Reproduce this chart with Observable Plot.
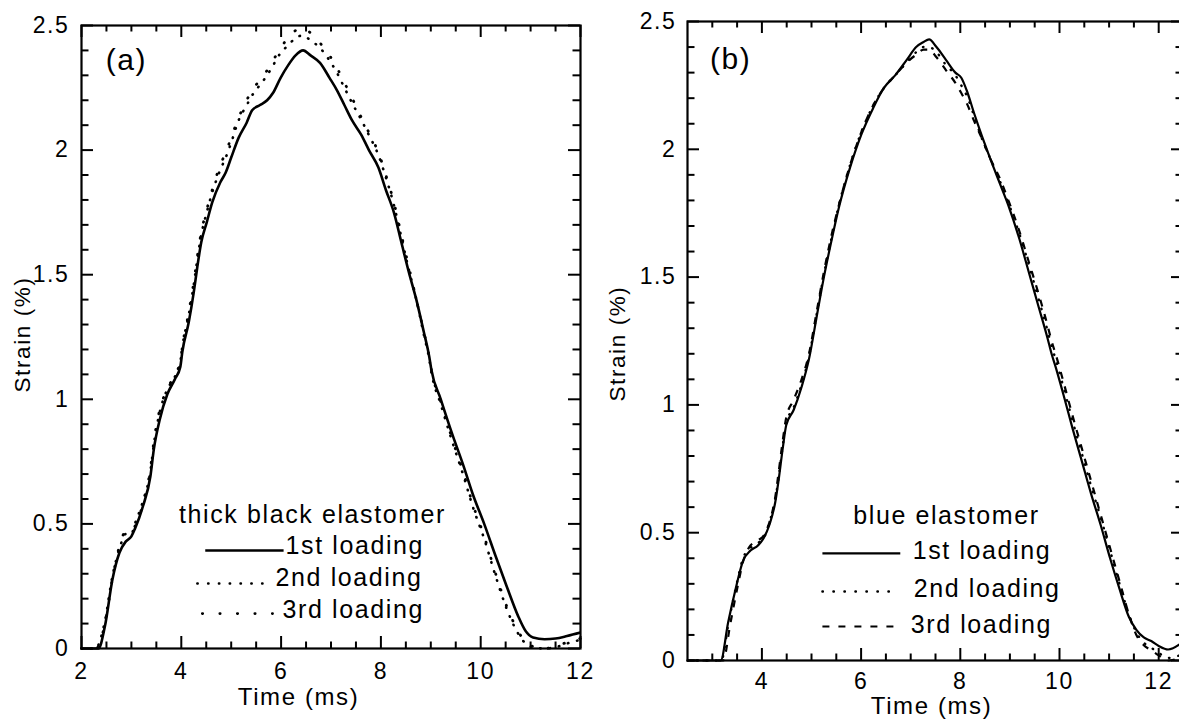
<!DOCTYPE html>
<html>
<head>
<meta charset="utf-8">
<script src="https://cdn.jsdelivr.net/npm/d3@7"></script>
<script src="https://cdn.jsdelivr.net/npm/@observablehq/plot@0.6"></script>
<style>
  html, body { margin: 0; padding: 0; background: #fff; overflow: hidden; }
  #wrap { position: relative; width: 1179px; height: 722px; overflow: hidden; background: #fff; }
  #pa, #pb { position: absolute; top: 0; }
  #pa { left: 0; width: 590px; }
  #pb { left: 600px; width: 600px; }
  #wrap svg { max-width: none !important; }
</style>
</head>
<body>
<div id="wrap"><div id="pa"></div><div id="pb"></div></div>
<script>
// ---------------- DATA ----------------
const seriesNames = ["1st loading", "2nd loading", "3rd loading"];

// Panel (a): thick black elastomer
const timeA1 = [2.0, 2.2, 2.34, 2.47, 2.62, 2.76, 2.89, 3.0, 3.07, 3.23, 3.38, 3.45, 3.57, 3.72, 3.87, 3.98, 4.02, 4.15, 4.25, 4.32, 4.40, 4.51, 4.62, 4.78, 4.89, 5.0, 5.15, 5.31, 5.42, 5.57, 5.72, 5.84, 5.99, 6.14, 6.29, 6.44, 6.59, 6.78, 6.97, 7.12, 7.27, 7.42, 7.61, 7.76, 7.95, 8.10, 8.26, 8.41, 8.56, 8.71, 8.86, 8.97, 9.01, 9.20, 9.43, 9.66, 9.84, 10.07, 10.30, 10.52, 10.75, 10.90, 11.05, 11.28, 11.50, 11.73, 12.0];
const strainA1 = [0, 0, 0, 0.09, 0.277, 0.384, 0.43, 0.45, 0.48, 0.57, 0.69, 0.80, 0.92, 1.02, 1.08, 1.13, 1.19, 1.31, 1.43, 1.53, 1.63, 1.71, 1.79, 1.87, 1.91, 1.97, 2.05, 2.11, 2.16, 2.18, 2.20, 2.23, 2.29, 2.34, 2.38, 2.40, 2.38, 2.35, 2.29, 2.24, 2.18, 2.12, 2.06, 2.0, 1.93, 1.84, 1.75, 1.63, 1.51, 1.40, 1.27, 1.17, 1.12, 1.0, 0.86, 0.73, 0.62, 0.50, 0.37, 0.25, 0.13, 0.07, 0.044, 0.037, 0.04, 0.05, 0.064];

const timeA2 = [2.0, 2.3, 2.35, 2.47, 2.62, 2.76, 2.89, 3.0, 3.07, 3.23, 3.38, 3.45, 3.57, 3.72, 3.87, 3.98, 4.02, 4.15, 4.25, 4.32, 4.40, 4.51, 4.62, 4.78, 4.89, 5.0, 5.15, 5.31, 5.42, 5.57, 5.72, 5.84, 5.99, 6.14, 6.29, 6.44, 6.59, 6.78, 6.97, 7.12, 7.27, 7.42, 7.61, 7.76, 7.95, 8.10, 8.26, 8.41, 8.56, 8.71, 8.86, 8.97, 9.01, 9.20, 9.43, 9.66, 9.84, 10.07, 10.30, 10.52, 10.75, 10.90, 11.05, 11.28, 11.50, 11.73, 12.0];
const strainA2 = [0, 0, 0.02, 0.11, 0.29, 0.40, 0.46, 0.46, 0.50, 0.59, 0.71, 0.82, 0.95, 1.04, 1.09, 1.15, 1.21, 1.34, 1.46, 1.56, 1.66, 1.75, 1.83, 1.92, 1.97, 2.03, 2.12, 2.18, 2.22, 2.26, 2.30, 2.34, 2.39, 2.42, 2.45, 2.46, 2.44, 2.41, 2.36, 2.31, 2.25, 2.19, 2.12, 2.06, 1.98, 1.89, 1.78, 1.65, 1.52, 1.40, 1.26, 1.16, 1.11, 0.98, 0.83, 0.69, 0.57, 0.44, 0.29, 0.16, 0.06, 0.02, 0.005, 0.0, 0.005, 0.02, 0.035];

const timeA3 = [2.0, 2.3, 2.36, 2.47, 2.62, 2.76, 2.89, 3.0, 3.07, 3.23, 3.38, 3.45, 3.57, 3.72, 3.87, 3.98, 4.02, 4.15, 4.25, 4.32, 4.40, 4.51, 4.62, 4.78, 4.89, 5.0, 5.15, 5.31, 5.42, 5.57, 5.72, 5.84, 5.99, 6.14, 6.29, 6.44, 6.59, 6.78, 6.97, 7.12, 7.27, 7.42, 7.61, 7.76, 7.95, 8.10, 8.26, 8.41, 8.56, 8.71, 8.86, 8.97, 9.01, 9.20, 9.43, 9.66, 9.84, 10.07, 10.30, 10.52, 10.75, 10.90, 11.05, 11.28, 11.50, 11.73, 12.0];
const strainA3 = [0, 0, 0.02, 0.10, 0.28, 0.41, 0.47, 0.47, 0.49, 0.58, 0.72, 0.83, 0.96, 1.04, 1.10, 1.15, 1.21, 1.35, 1.47, 1.57, 1.67, 1.76, 1.84, 1.94, 1.99, 2.05, 2.13, 2.20, 2.24, 2.28, 2.32, 2.36, 2.41, 2.45, 2.48, 2.49, 2.47, 2.43, 2.38, 2.33, 2.27, 2.21, 2.13, 2.07, 1.99, 1.90, 1.79, 1.66, 1.53, 1.40, 1.27, 1.17, 1.12, 0.99, 0.84, 0.70, 0.58, 0.45, 0.30, 0.17, 0.07, 0.025, 0.008, 0.0, 0.008, 0.025, 0.04];

// Panel (b): blue elastomer
const timeB1 = [2.5, 3.0, 3.17, 3.32, 3.47, 3.62, 3.77, 3.92, 4.04, 4.15, 4.27, 4.34, 4.42, 4.49, 4.64, 4.80, 4.95, 5.10, 5.25, 5.40, 5.55, 5.78, 6.01, 6.24, 6.46, 6.69, 6.92, 7.11, 7.26, 7.37, 7.52, 7.71, 7.90, 8.02, 8.13, 8.28, 8.44, 8.59, 8.81, 8.97, 9.19, 9.38, 9.57, 9.76, 9.84, 9.92, 10.08, 10.26, 10.45, 10.64, 10.83, 11.02, 11.21, 11.40, 11.55, 11.70, 11.85, 12.0, 12.19, 12.42];
const strainB1 = [0, 0, 0, 0.15, 0.28, 0.39, 0.43, 0.45, 0.48, 0.53, 0.62, 0.71, 0.83, 0.92, 0.98, 1.07, 1.18, 1.34, 1.50, 1.64, 1.77, 1.93, 2.06, 2.16, 2.24, 2.29, 2.35, 2.40, 2.42, 2.43, 2.40, 2.35, 2.30, 2.28, 2.23, 2.14, 2.05, 1.97, 1.86, 1.78, 1.65, 1.52, 1.39, 1.26, 1.20, 1.15, 1.04, 0.91, 0.78, 0.65, 0.53, 0.40, 0.28, 0.17, 0.12, 0.09, 0.076, 0.057, 0.043, 0.063];

const timeB2 = [2.5, 3.0, 3.18, 3.33, 3.48, 3.62, 3.77, 3.92, 4.04, 4.15, 4.27, 4.34, 4.42, 4.49, 4.64, 4.80, 4.95, 5.10, 5.25, 5.40, 5.55, 5.78, 6.01, 6.24, 6.46, 6.69, 6.92, 7.11, 7.26, 7.37, 7.52, 7.71, 7.90, 8.02, 8.13, 8.28, 8.44, 8.59, 8.81, 8.97, 9.19, 9.38, 9.57, 9.76, 9.84, 9.92, 10.08, 10.26, 10.45, 10.64, 10.83, 11.02, 11.21, 11.40, 11.55, 11.70, 11.85, 12.0, 12.19, 12.42];
const strainB2 = [0, 0, 0, 0.15, 0.29, 0.40, 0.44, 0.46, 0.48, 0.54, 0.63, 0.72, 0.84, 0.93, 0.99, 1.08, 1.19, 1.35, 1.51, 1.65, 1.78, 1.94, 2.07, 2.17, 2.24, 2.29, 2.34, 2.38, 2.40, 2.40, 2.38, 2.33, 2.29, 2.25, 2.21, 2.13, 2.04, 1.97, 1.87, 1.79, 1.67, 1.55, 1.42, 1.29, 1.23, 1.18, 1.07, 0.94, 0.81, 0.68, 0.56, 0.43, 0.30, 0.18, 0.11, 0.07, 0.05, 0.03, 0.01, 0.02];

const timeB3 = [2.5, 3.0, 3.22, 3.36, 3.50, 3.64, 3.77, 3.92, 4.04, 4.15, 4.27, 4.34, 4.42, 4.49, 4.64, 4.80, 4.95, 5.10, 5.25, 5.40, 5.55, 5.78, 6.01, 6.24, 6.46, 6.69, 6.92, 7.11, 7.26, 7.37, 7.52, 7.71, 7.90, 8.02, 8.13, 8.28, 8.44, 8.59, 8.81, 8.97, 9.19, 9.38, 9.57, 9.76, 9.84, 9.92, 10.08, 10.26, 10.45, 10.64, 10.83, 11.02, 11.21, 11.40, 11.55, 11.70, 11.85, 12.0, 12.19, 12.42];
const strainB3 = [0, 0, 0, 0.14, 0.28, 0.40, 0.45, 0.47, 0.49, 0.54, 0.64, 0.74, 0.86, 0.95, 1.02, 1.10, 1.20, 1.36, 1.52, 1.66, 1.78, 1.94, 2.07, 2.17, 2.24, 2.29, 2.34, 2.37, 2.39, 2.39, 2.36, 2.31, 2.26, 2.22, 2.18, 2.11, 2.04, 1.97, 1.88, 1.80, 1.68, 1.56, 1.44, 1.31, 1.25, 1.20, 1.09, 0.96, 0.83, 0.70, 0.57, 0.44, 0.31, 0.18, 0.10, 0.06, 0.04, 0.02, 0.0, 0.01];

// Tick values
const majorTicksY = [0, 0.5, 1, 1.5, 2, 2.5];
const minorTicksY = [0.1, 0.2, 0.3, 0.4, 0.6, 0.7, 0.8, 0.9, 1.1, 1.2, 1.3, 1.4, 1.6, 1.7, 1.8, 1.9, 2.1, 2.2, 2.3, 2.4];
const majorTicksXA = [2, 4, 6, 8, 10, 12];
const minorTicksXA = [2.5, 3, 3.5, 4.5, 5, 5.5, 6.5, 7, 7.5, 8.5, 9, 9.5, 10.5, 11, 11.5];
const majorTicksXB = [4, 6, 8, 10, 12];
const minorTicksXB = [3, 3.5, 4.5, 5, 5.5, 6.5, 7, 7.5, 8.5, 9, 9.5, 10.5, 11, 11.5, 12.5];

// Texts
const xLabel = "Time (ms)";
const yLabel = "Strain (%)";

// ---------------- LAYOUT / STYLE ----------------
const lineStylesA = [
  {w: 2.6, dash: null, cap: "butt"},
  {w: 2.6, dash: "0.5,9", cap: "round"},
  {w: 2.8, dash: "0.5,16", cap: "round"}
];
const lineStylesB = [
  {w: 2.2, dash: null, cap: "butt"},
  {w: 2.4, dash: "0.5,9", cap: "round"},
  {w: 2.2, dash: "7,8", cap: "butt"}
];
const MAJOR_LEN = 12, MINOR_LEN = 6.5;

function buildPanel(cfg) {
  const rows = [];
  cfg.series.forEach((s, i) => s.t.forEach((t, j) => rows.push({t, v: s.v[j], name: seriesNames[i]})));
  const legendRows = seriesNames.map((name, i) => ({
    name, x1: cfg.legend.lx[i][0], x2: cfg.legend.lx[i][1], ly: cfg.legend.ly[i], tx: cfg.legend.tx[i], ty: cfg.legend.ty[i]
  }));
  const fw = cfg.width - cfg.m[0] - cfg.m[1];   // frame width (px)
  const fh = cfg.height - cfg.m[2] - cfg.m[3];  // frame height (px)
  const tk = {stroke: "black", strokeWidth: 2};
  const marks = [];
  // curves (3rd, 2nd, then 1st on top)
  [2, 1, 0].forEach(i => {
    const st = cfg.styles[i];
    marks.push(Plot.line(rows.filter(r => r.name === seriesNames[i]), {
      x: "t", y: "v", curve: "monotone-x", stroke: "black",
      strokeWidth: st.w, strokeDasharray: st.dash, strokeLinecap: st.cap
    }));
  });
  // inward ticks on all four sides
  marks.push(Plot.tickX(cfg.majorX, {x: d => d, insetTop: fh - MAJOR_LEN, ...tk}));
  marks.push(Plot.tickX(cfg.minorX, {x: d => d, insetTop: fh - MINOR_LEN, ...tk}));
  marks.push(Plot.tickX(cfg.majorX, {x: d => d, insetBottom: fh - MAJOR_LEN, ...tk}));
  marks.push(Plot.tickX(cfg.minorX, {x: d => d, insetBottom: fh - MINOR_LEN, ...tk}));
  marks.push(Plot.tickY(majorTicksY, {y: d => d, insetRight: fw - MAJOR_LEN, ...tk}));
  marks.push(Plot.tickY(minorTicksY, {y: d => d, insetRight: fw - MINOR_LEN - 1, ...tk}));
  marks.push(Plot.tickY(majorTicksY, {y: d => d, insetLeft: fw - MAJOR_LEN, ...tk}));
  marks.push(Plot.tickY(minorTicksY, {y: d => d, insetLeft: fw - MINOR_LEN - 1, ...tk}));
  marks.push(Plot.frame({stroke: "black", strokeWidth: 2.2}));
  // tick labels
  marks.push(Plot.axisX({anchor: "bottom", ticks: cfg.majorX, tickSize: 0, tickPadding: cfg.xPad, tickFormat: d => String(d), label: null, fontSize: 23}));
  marks.push(Plot.axisY({anchor: "left", ticks: majorTicksY, tickSize: 0, tickPadding: cfg.yPad, tickFormat: d => String(d), label: null, fontSize: 23}));
  // axis titles
  marks.push(Plot.text([xLabel], {x: cfg.xLabelAt, frameAnchor: "bottom", dy: cfg.xLabelDy, text: d => d, fontSize: 24, letterSpacing: "1.4px", lineAnchor: "middle", textAnchor: "middle"}));
  marks.push(Plot.text([yLabel], {y: cfg.yLabelAt, frameAnchor: "left", dx: cfg.yLabelDx, text: d => d, rotate: -90, fontSize: 22.5, letterSpacing: "0px", lineAnchor: "middle", textAnchor: "middle"}));
  // panel tag
  marks.push(Plot.text([cfg.tag], {x: cfg.tagAt[0], y: cfg.tagAt[1], text: d => d, fontSize: 30, textAnchor: "middle", lineAnchor: "middle"}));
  // legend
  marks.push(Plot.text([cfg.legend.title], {x: cfg.legend.titleAt[0], y: cfg.legend.titleAt[1], text: d => d, fontSize: 25, letterSpacing: "0.9px", textAnchor: "middle", lineAnchor: "middle"}));
  legendRows.forEach((r, i) => {
    const st = cfg.legendStyles[i];
    marks.push(Plot.link([r], {x1: "x1", x2: "x2", y1: "ly", y2: "ly", stroke: "black", strokeWidth: st.w, strokeDasharray: st.dash, strokeLinecap: st.cap}));
  });
  marks.push(Plot.text(legendRows, {x: "tx", y: "ty", text: "name", fontSize: 25, letterSpacing: "0.9px", textAnchor: "start", lineAnchor: "middle"}));

  return Plot.plot({
    width: cfg.width, height: cfg.height,
    marginLeft: cfg.m[0], marginRight: cfg.m[1], marginTop: cfg.m[2], marginBottom: cfg.m[3],
    x: {domain: cfg.xDomain},
    y: {domain: [0, 2.5]},
    style: {fontFamily: "'Liberation Sans', Arial, sans-serif", fontSize: "23px", letterSpacing: "1.6px", color: "black", background: "white", overflow: "visible", maxWidth: "none"},
    marks
  });
}

const panelA = buildPanel({
  series: [{t: timeA1, v: strainA1}, {t: timeA2, v: strainA2}, {t: timeA3, v: strainA3}],
  styles: lineStylesA,
  legendStyles: [{w: 2.6, dash: null, cap: "butt"}, {w: 2.4, dash: "0.5,10.3", cap: "round"}, {w: 2.6, dash: "0.5,17", cap: "round"}],
  width: 590, height: 722, m: [81, 10, 25, 74],
  xDomain: [2, 12], majorX: majorTicksXA, minorX: minorTicksXA,
  xPad: 14, yPad: 12,
  xLabelAt: 6.35, xLabelDy: 49, yLabelAt: 1.26, yLabelDx: -58.5,
  tag: "(a)", tagAt: [2.9, 2.36],
  legend: {
    title: "thick black elastomer", titleAt: [6.63, 0.535],
    lx: [[4.48, 6.05], [4.32, 5.83], [4.42, 5.83]],
    ly: [0.393, 0.261, 0.14],
    tx: [6.09, 5.89, 6.03],
    ty: [0.41, 0.281, 0.156]
  }
});

const panelB = buildPanel({
  series: [{t: timeB1, v: strainB1}, {t: timeB2, v: strainB2}, {t: timeB3, v: strainB3}],
  styles: lineStylesB,
  legendStyles: [{w: 2.2, dash: null, cap: "butt"}, {w: 2.4, dash: "0.5,10.5", cap: "round"}, {w: 2.2, dash: "7,9", cap: "butt"}],
  width: 600, height: 722, m: [87, 17, 21, 62],
  xDomain: [2.5, 12.5], majorX: majorTicksXB, minorX: minorTicksXB,
  xPad: 12, yPad: 11,
  xLabelAt: 7.42, xLabelDy: 46, yLabelAt: 1.24, yLabelDx: -70,
  tag: "(b)", tagAt: [3.37, 2.35],
  legend: {
    title: "blue elastomer", titleAt: [7.72, 0.567],
    lx: [[5.22, 6.79], [5.22, 6.73], [5.22, 6.79]],
    ly: [0.419, 0.27, 0.133],
    tx: [7.04, 7.06, 7.0],
    ty: [0.43, 0.278, 0.14]
  }
});

document.getElementById("pa").appendChild(panelA);
document.getElementById("pb").appendChild(panelB);
</script>
</body>
</html>
